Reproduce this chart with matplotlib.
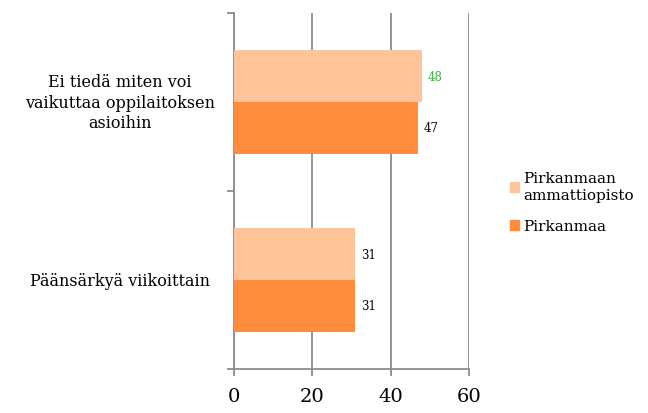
import numpy as np
import matplotlib.pyplot as plt
from matplotlib.patches import Patch
from matplotlib.transforms import blended_transform_factory

plt.rcParams['font.family'] = ['DejaVu Serif']

categories = ["Päänsärkyä viikoittain", "Ei tiedä miten voi\nvaikuttaa oppilaitoksen\nasioihin"]
series_names = ["Pirkanmaan\nammattiopisto", "Pirkanmaa"]
ammattiopisto = [31, 48]
pirkanmaa = [31, 47]
xticks = [0, 20, 40, 60]

light = '#FFC499'
dark = '#FF8C3C'
grid_col = '#8C8C8C'

fig = plt.figure(figsize=(6.48, 4.14), dpi=100)
ax = fig.add_axes([0.361, 0.106, 0.363, 0.86])

y = np.arange(len(categories)) + 0.5
h = 0.29
ax.barh(y + h / 2, ammattiopisto, height=h, color=light, zorder=3)
ax.barh(y - h / 2, pirkanmaa, height=h, color=dark, zorder=3)

# arvot palkkien perään
for yi, v in zip(y, ammattiopisto):
    col = '#3CB043' if v == 48 else 'black'
    ax.text(v + 1.5, yi + h / 2, str(v), va='center', ha='left', fontsize=8.5, color=col)
for yi, v in zip(y, pirkanmaa):
    ax.text(v + 1.5, yi - h / 2, str(v), va='center', ha='left', fontsize=8.5, color='black')

ax.set_xlim(0, 60)
ax.set_ylim(0, 2)
ax.set_xticks(xticks)
ax.set_xticklabels([str(t) for t in xticks], fontsize=14)
ax.set_yticks([0, 1, 2])
ax.set_yticklabels([])
ax.tick_params(axis='y', length=5, color=grid_col, width=1.3)
ax.tick_params(axis='x', length=5, color=grid_col, width=1.3, pad=8)

# luokkien nimet keskitettynä akselin vasemmalle puolelle
tr = blended_transform_factory(fig.transFigure, ax.transData)
for yi, name in zip(y, categories):
    fig.text(120 / 648, yi, name, transform=tr, ha='center', va='center',
             fontsize=11.5, linespacing=1.25)

ax.grid(axis='x', color=grid_col, linewidth=1.3, zorder=0)
for s in ['top', 'right']:
    ax.spines[s].set_visible(False)
for s in ['left', 'bottom']:
    ax.spines[s].set_color(grid_col)
    ax.spines[s].set_linewidth(1.3)

handles = [Patch(color=light), Patch(color=dark)]
leg = fig.legend(handles, series_names, loc='upper left', bbox_to_anchor=(0.775, 0.603),
                 frameon=False, fontsize=11, handlelength=0.6, handleheight=0.6,
                 handletextpad=0.3, labelspacing=1.1, borderpad=0)
for t in leg.get_texts():
    t.set_linespacing(1.3)

fig.savefig('out.png', dpi=100)
